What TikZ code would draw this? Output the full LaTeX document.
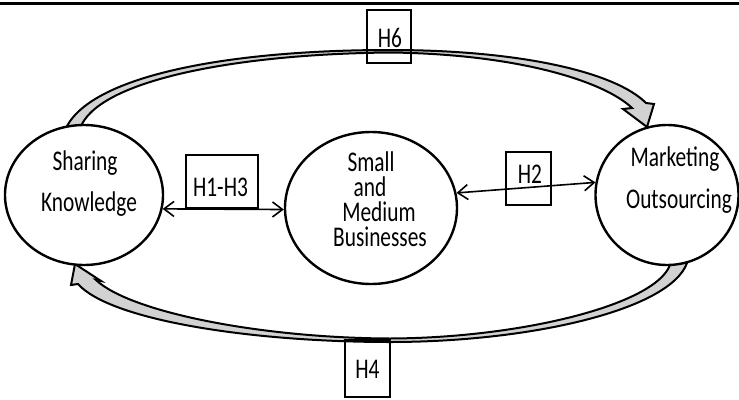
\documentclass[tikz,border=0pt]{standalone}
\usepackage{fontspec}
\setmainfont{Carlito}[FakeStretch=0.75]
\usetikzlibrary{arrows.meta,shapes.geometric}
\begin{document}
\begin{tikzpicture}[x=1pt,y=-1pt,
  circ/.style={ellipse,draw,line width=2.4pt,fill=white,inner sep=0pt},
  lbl/.style={anchor=base,inner sep=0pt,font=\fontsize{28.5}{28.5}\selectfont},
  hbox/.style={draw,line width=1.1pt,inner sep=0pt},
  band/.style={draw,line width=2pt,fill=gray!35,line join=miter},
  dbl/.style={line width=1.6pt,{Straight Barb[length=10pt,width=15pt]}-{Straight Barb[length=10pt,width=15pt]}}
]
\useasboundingbox (0,0) rectangle (739,399);
\draw[line width=2.5pt] (0,3.5) -- (739,3.5);
% top band (H6)
\path[band] (66,132) -- (67,126) .. controls (95,75) and (230,50) .. (390,50)
  .. controls (520,50) and (615,72) .. (646,103) -- (654,104) -- (647,127) -- (623,109) -- (632,108)
  .. controls (605,82) and (520,54) .. (390,52.5) .. controls (235,54) and (105,80) .. (82,124) -- (83,132) -- cycle;
% bottom band (H4)
\path[band] (688,256) -- (687,263) .. controls (670,310) and (530,342) .. (390,342)
  .. controls (250,342) and (110,320) .. (78,284) -- (71,285) -- (75,264) -- (101,281) -- (96,280)
  .. controls (130,312) and (260,338) .. (390,338.5) .. controls (520,338) and (655,305) .. (670,265) -- (670,256) -- cycle;
% circles
\node[circ,minimum width=158pt,minimum height=140pt] (sk) at (84,195) {};
\node[circ,minimum width=172pt,minimum height=152pt] (smb) at (371,208) {};
\node[circ,minimum width=143pt,minimum height=140pt] (mo) at (667,195) {};
% texts
\node[lbl] (t1) at (85,170) {Sharing};
\node[lbl] (t2) at (89,211) {Knowledge};
\node[inner sep=0pt,anchor=north,align=center,font=\fontsize{28.5}{25}\selectfont] (t3) at (375,151.5)
  {\hspace*{-8pt}Small\\\hspace*{-10pt}and\\\hspace*{8pt}Medium\\\hspace*{10pt}Businesses};
\node[lbl] (t7) at (675,166.7) {Marketing};
\node[lbl] (t8) at (679,208) {Outsourcing};
% hypothesis boxes
\node[hbox,minimum width=72pt,minimum height=53pt] (b13) at (222,181.5) {};
\node[lbl] (h13) at (220.5,196.7) {H1-H3};
\node[hbox,minimum width=45pt,minimum height=53pt] (b2) at (528.5,178.5) {};
\node[lbl] (h2) at (530,183.3) {H2};
\node[hbox,minimum width=44pt,minimum height=53pt] (b6) at (389,36.5) {};
\node[lbl] (h6) at (390,47) {H6};
\node[hbox,minimum width=45pt,minimum height=57pt] (b4) at (367.5,368.5) {};
\node[lbl] (h4) at (367.5,378) {H4};
% connectors
\draw[dbl] (sk.-10) -- (smb.181);
\draw[dbl] (smb.10) -- (mo.170);
\end{tikzpicture}
\end{document}
